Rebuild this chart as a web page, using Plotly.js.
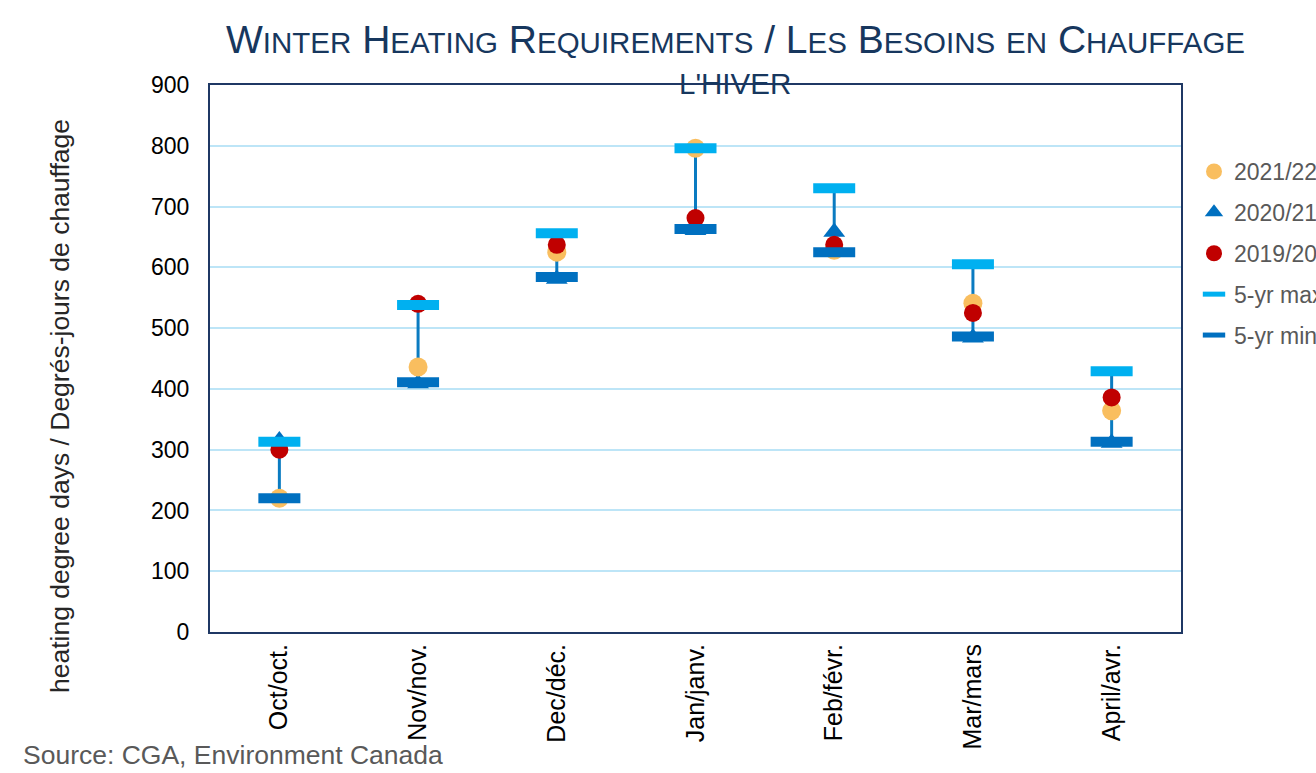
<!DOCTYPE html>
<html><head><meta charset="utf-8">
<script src="https://cdn.plot.ly/plotly-3.0.1.min.js"></script>
<style>html,body{margin:0;padding:0;background:#fff;}#chart{width:1316px;height:773px;}</style>
</head><body><div id="chart"></div>
<script>
const months = ["Oct/oct.", "Nov/nov.", "Dec/déc.", "Jan/janv.", "Feb/févr.", "Mar/mars", "April/avr."];
const y2021_22 = [220, 436, 625, 796, 628, 541, 364];
const y2020_21 = [315, 409, 581, 661, 658, 484, 311];
const y2019_20 = [300, 540, 637, 681, 637, 525, 386];
const max5yr = [313, 538, 656, 796, 730, 605, 429];
const min5yr = [220, 411, 584, 663, 625, 486, 313];

const rangeSpan = max5yr.map((v, i) => v - min5yr[i]);
const zeros = months.map(() => 0);

const traces = [
  { x: months, y: min5yr, type: 'scatter', mode: 'markers', showlegend: false, hoverinfo: 'skip',
    marker: { size: 1, color: 'rgba(0,0,0,0)' },
    error_y: { type: 'data', symmetric: false, array: rangeSpan, arrayminus: zeros, width: 0, thickness: 3, color: '#0A7BC1' } },
  { x: months, y: y2020_21, name: '2020/21', type: 'scatter', mode: 'markers', legendrank: 2, legendgroup: 'g2',
    marker: { symbol: 'triangle-up', size: 19, color: '#0070C0' } },
  { x: months, y: y2021_22, name: '2021/22', type: 'scatter', mode: 'markers', legendrank: 1, legendgroup: 'g1',
    marker: { symbol: 'circle', size: 19, color: '#F9BE5F' } },
  { x: months, y: y2019_20, name: '2019/20', type: 'scatter', mode: 'markers', legendrank: 3, legendgroup: 'g3',
    marker: { symbol: 'circle', size: 18, color: '#C00000' } },
  { x: months, y: max5yr, name: '5-yr max', type: 'scatter', mode: 'markers', legendrank: 4, legendgroup: 'g4',
    marker: { symbol: 'line-ew', size: 30, color: '#00B0F0', line: { width: 10, color: '#00B0F0' } } },
  { x: months, y: min5yr, name: '5-yr min', type: 'scatter', mode: 'markers', legendrank: 5, legendgroup: 'g5',
    marker: { symbol: 'line-ew', size: 30, color: '#0070C0', line: { width: 10, color: '#0070C0' } } }
];

const sc = (s) => `<span style="font-size:29.5px">${s}</span>`;
const titleLine1 = `W${sc('INTER')} H${sc('EATING')} R${sc('EQUIREMENTS')} / L${sc('ES')} B${sc('ESOINS')} ${sc('EN')} C${sc('HAUFFAGE')}`;
const titleLine2 = sc("L'HIVER");

const layout = {
  width: 1316, height: 773,
  margin: { l: 210, r: 135, t: 85, b: 141, autoexpand: false },
  paper_bgcolor: '#ffffff', plot_bgcolor: '#ffffff',
  font: { family: 'Liberation Sans, Arial, sans-serif', color: '#000000' },
  xaxis: {
    type: 'category', range: [-0.5, 6.5], showgrid: false, zeroline: false,
    showline: true, linecolor: '#1F3864', linewidth: 2, mirror: true,
    ticks: '', tickangle: -90, tickfont: { size: 25, color: '#000000' }
  },
  yaxis: {
    range: [0, 900], dtick: 100, showgrid: true, gridcolor: '#BDE5F7', gridwidth: 2, zeroline: false,
    showline: true, linecolor: '#1F3864', linewidth: 2, mirror: true,
    ticks: '', ticklabelstandoff: 14, tickfont: { size: 23, color: '#000000' }
  },
  legend: { x: (1194 - 210) / 971, xanchor: 'left', y: 1 - (150 - 85) / 547, yanchor: 'top', font: { size: 23, color: '#595959' },
    bgcolor: 'rgba(0,0,0,0)', traceorder: 'grouped', tracegroupgap: 8, itemwidth: 30 },
  annotations: [
    { text: titleLine1, xref: 'paper', yref: 'paper', x: (735 - 210) / 971, y: (632 - 40) / 547,
      xanchor: 'center', yanchor: 'middle', showarrow: false, font: { size: 39, color: '#17375E' } },
    { text: titleLine2, xref: 'paper', yref: 'paper', x: (735 - 210) / 971, y: (632 - 83) / 547,
      xanchor: 'center', yanchor: 'middle', showarrow: false, font: { size: 39, color: '#17375E' } },
    { text: 'heating degree days / Degrés-jours de chauffage', xref: 'paper', yref: 'paper', x: (60 - 210) / 971, y: (632 - 406) / 547,
      xanchor: 'center', yanchor: 'middle', textangle: -90, showarrow: false, font: { size: 26.5, color: '#262626' } },
    { text: 'Source: CGA, Environment Canada', xref: 'paper', yref: 'paper', x: (21 - 210) / 971, y: (632 - 755) / 547,
      xanchor: 'left', yanchor: 'middle', showarrow: false, font: { size: 26.5, color: '#595959' } }
  ]
};

Plotly.newPlot('chart', traces, layout, { displayModeBar: false, responsive: false });
</script>
</body></html>
